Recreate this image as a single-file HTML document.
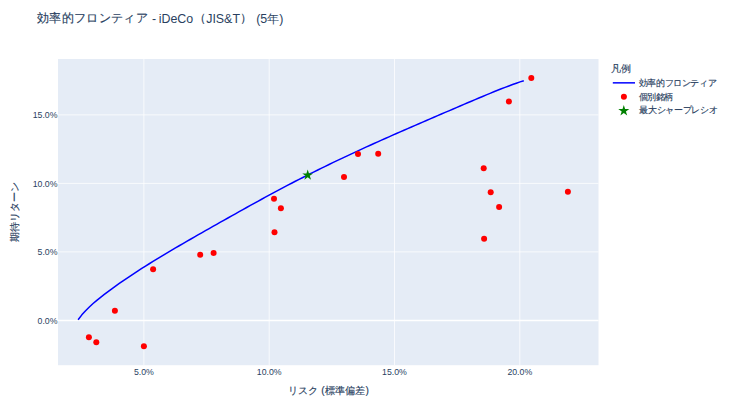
<!DOCTYPE html>
<html><head><meta charset="utf-8"><style>
html,body{margin:0;padding:0;background:#fff;width:730px;height:410px;overflow:hidden}
svg{display:block}
text{font-family:"Liberation Sans", sans-serif;fill:#2a3f5f}
.t{font-size:8.76px}
.ti{font-size:12.41px}
.ax{font-size:10.2px}
.lg{font-size:8.76px}
.cj{stroke:#2a3f5f;stroke-width:0.15px}
.lgt{font-size:10.22px}
</style></head><body>
<svg width="730" height="410" viewBox="0 0 730 410">
<rect x="58" y="59" width="540.5" height="306.2" fill="#e5ecf6"/>
<line x1="143.90" y1="59" x2="143.90" y2="365.2" stroke="#fff" stroke-width="0.75"/>
<line x1="269.20" y1="59" x2="269.20" y2="365.2" stroke="#fff" stroke-width="0.75"/>
<line x1="394.50" y1="59" x2="394.50" y2="365.2" stroke="#fff" stroke-width="0.75"/>
<line x1="519.80" y1="59" x2="519.80" y2="365.2" stroke="#fff" stroke-width="0.75"/>
<line x1="58" y1="320.40" x2="598.5" y2="320.40" stroke="#fff" stroke-width="1.46"/>
<line x1="58" y1="251.90" x2="598.5" y2="251.90" stroke="#fff" stroke-width="0.75"/>
<line x1="58" y1="183.40" x2="598.5" y2="183.40" stroke="#fff" stroke-width="0.75"/>
<line x1="58" y1="114.90" x2="598.5" y2="114.90" stroke="#fff" stroke-width="0.75"/>
<path d="M78.10,319.80 L81.85,314.86 L85.59,310.76 L89.34,307.00 L93.08,303.55 L96.83,300.34 L100.57,297.31 L104.32,294.42 L108.06,291.59 L111.81,288.83 L115.55,286.12 L119.30,283.47 L123.04,280.86 L126.79,278.30 L130.54,275.78 L134.28,273.31 L138.03,270.87 L141.77,268.47 L145.52,266.10 L149.26,263.76 L153.01,261.44 L156.75,259.15 L160.50,256.88 L164.24,254.63 L167.99,252.40 L171.73,250.18 L175.48,247.97 L179.23,245.77 L182.97,243.59 L186.72,241.42 L190.46,239.25 L194.21,237.10 L197.95,234.95 L201.70,232.81 L205.44,230.68 L209.19,228.56 L212.93,226.44 L216.68,224.32 L220.42,222.21 L224.17,220.10 L227.92,217.99 L231.66,215.89 L235.41,213.78 L239.15,211.69 L242.90,209.59 L246.64,207.51 L250.39,205.42 L254.13,203.35 L257.88,201.29 L261.62,199.23 L265.37,197.19 L269.11,195.15 L272.86,193.13 L276.61,191.12 L280.35,189.13 L284.10,187.14 L287.84,185.18 L291.59,183.23 L295.33,181.29 L299.08,179.37 L302.82,177.46 L306.57,175.57 L310.31,173.69 L314.06,171.82 L317.80,169.97 L321.55,168.13 L325.29,166.30 L329.04,164.49 L332.79,162.68 L336.53,160.89 L340.28,159.11 L344.02,157.34 L347.77,155.58 L351.51,153.83 L355.26,152.09 L359.00,150.36 L362.75,148.64 L366.49,146.92 L370.24,145.22 L373.98,143.52 L377.73,141.84 L381.48,140.15 L385.22,138.48 L388.97,136.82 L392.71,135.16 L396.46,133.50 L400.20,131.85 L403.95,130.21 L407.69,128.58 L411.44,126.94 L415.18,125.32 L418.93,123.69 L422.67,122.07 L426.42,120.46 L430.17,118.85 L433.91,117.24 L437.66,115.63 L441.40,114.02 L445.15,112.42 L448.89,110.82 L452.64,109.22 L456.38,107.62 L460.13,106.01 L463.87,104.41 L467.62,102.81 L471.36,101.21 L475.11,99.62 L478.86,98.03 L482.60,96.45 L486.35,94.89 L490.09,93.34 L493.84,91.81 L497.58,90.30 L501.33,88.81 L505.07,87.35 L508.82,85.93 L512.56,84.54 L516.31,83.18 L520.05,81.86 L523.80,80.70" fill="none" stroke="#0000ff" stroke-width="1.5" stroke-linejoin="round" stroke-linecap="butt"/>
<circle cx="88.9" cy="337.2" r="3" fill="#ff0000"/>
<circle cx="96.3" cy="342.3" r="3" fill="#ff0000"/>
<circle cx="114.9" cy="310.7" r="3" fill="#ff0000"/>
<circle cx="143.9" cy="346.3" r="3" fill="#ff0000"/>
<circle cx="153.1" cy="269.3" r="3" fill="#ff0000"/>
<circle cx="200.2" cy="254.8" r="3" fill="#ff0000"/>
<circle cx="213.6" cy="252.9" r="3" fill="#ff0000"/>
<circle cx="274.0" cy="198.7" r="3" fill="#ff0000"/>
<circle cx="280.9" cy="208.3" r="3" fill="#ff0000"/>
<circle cx="274.5" cy="232.2" r="3" fill="#ff0000"/>
<circle cx="344.0" cy="177.1" r="3" fill="#ff0000"/>
<circle cx="358.0" cy="153.9" r="3" fill="#ff0000"/>
<circle cx="378.2" cy="153.7" r="3" fill="#ff0000"/>
<circle cx="483.7" cy="168.3" r="3" fill="#ff0000"/>
<circle cx="490.7" cy="192.2" r="3" fill="#ff0000"/>
<circle cx="499.1" cy="206.9" r="3" fill="#ff0000"/>
<circle cx="484.1" cy="238.7" r="3" fill="#ff0000"/>
<circle cx="508.9" cy="101.4" r="3" fill="#ff0000"/>
<circle cx="531.3" cy="78.0" r="3" fill="#ff0000"/>
<circle cx="567.9" cy="191.8" r="3" fill="#ff0000"/>
<path d="M308.98,173.39 L313.12,173.39 L309.77,175.82 L311.05,179.76 L307.70,177.33 L304.35,179.76 L305.63,175.82 L302.28,173.39 L306.42,173.39 L307.70,169.45Z" fill="#008000"/>
<text x="57.5" y="323.70" text-anchor="end" class="t">0.0%</text>
<text x="57.5" y="255.20" text-anchor="end" class="t">5.0%</text>
<text x="57.5" y="186.70" text-anchor="end" class="t">10.0%</text>
<text x="57.5" y="118.20" text-anchor="end" class="t">15.0%</text>
<text x="143.90" y="375.2" text-anchor="middle" class="t">5.0%</text>
<text x="269.20" y="375.2" text-anchor="middle" class="t">10.0%</text>
<text x="394.50" y="375.2" text-anchor="middle" class="t">15.0%</text>
<text x="519.80" y="375.2" text-anchor="middle" class="t">20.0%</text>
<text x="37.1" y="22.3" class="ti cj" letter-spacing="0.31">効率的フロンティア</text>
<text x="152" y="22.8" class="ti">-</text>
<text x="158.7" y="22.8" class="ti">iDeCo</text>
<text x="194.4" y="21.8" class="ti cj">（</text>
<text x="206.2" y="22.8" class="ti">JIS&amp;T</text>
<text x="239.9" y="21.8" class="ti cj">）</text>
<text x="256.2" y="22.6" class="ti">(5年)</text>
<text x="287.8" y="394.3" class="ax cj" letter-spacing="0.17">リスク (標準偏差)</text>
<text transform="translate(18,242.3) rotate(-90)" class="ax cj">期待リターン</text>
<text x="611.4" y="72.1" class="lgt cj">凡例</text>
<line x1="612.8" y1="82.85" x2="635" y2="82.85" stroke="#0000ff" stroke-width="1.5"/>
<text x="638.7" y="86.1" class="lg cj" letter-spacing="-0.375">効率的フロンティア</text>
<circle cx="623.9" cy="96.7" r="3" fill="#ff0000"/>
<text x="638.8" y="99.6" class="lg cj" letter-spacing="-0.5">個別銘柄</text>
<path d="M625.10,108.91 L629.32,108.91 L625.91,111.38 L627.21,115.39 L623.80,112.92 L620.39,115.39 L621.69,111.38 L618.28,108.91 L622.50,108.91 L623.80,104.90Z" fill="#008000"/>
<text x="639.2" y="113.2" class="lg cj" letter-spacing="-0.31">最大シャープレシオ</text>
</svg></body></html>
